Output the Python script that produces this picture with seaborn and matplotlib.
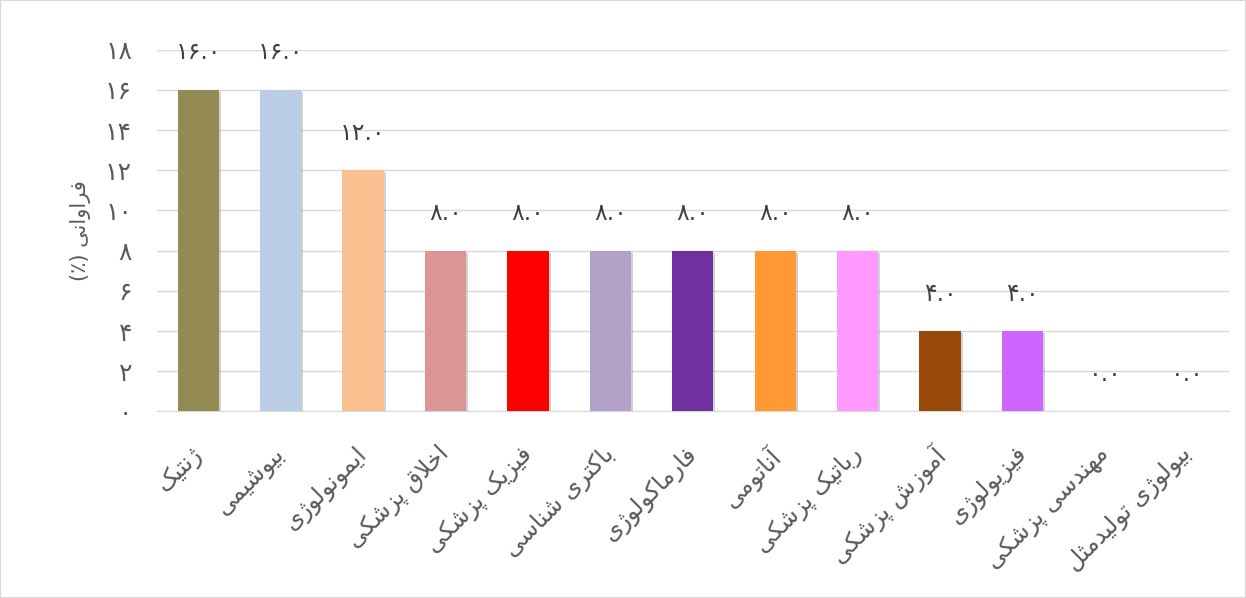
import matplotlib
matplotlib.use("Agg")
import matplotlib.pyplot as plt
import matplotlib.patheffects as pe
import matplotlib.transforms as mtransforms
from matplotlib.patches import Rectangle
import seaborn as sns
import pandas as pd

# Data (labels are logical Persian text)
subjects = [
    "ژنتیک", "بیوشیمی", "ایمونولوژی", "اخلاق پزشکی", "فیزیک پزشکی",
    "باکتری شناسی", "فارماکولوژی", "آناتومی", "رباتیک پزشکی",
    "آموزش پزشکی", "فیزیولوژی", "مهندسی پزشکی", "بیولوژی تولیدمثل",
]
percent = [16.0, 16.0, 12.0, 8.0, 8.0, 8.0, 8.0, 8.0, 8.0, 4.0, 4.0, 0.0, 0.0]
bar_colors = ["#948A54", "#B9CDE5", "#FAC090", "#D99694", "#FF0000", "#B3A2C7",
              "#7030A0", "#FF9933", "#FF99FF", "#984807", "#CC66FF",
              "#BFBFBF", "#BFBFBF"]
y_ticks = [0, 2, 4, 6, 8, 10, 12, 14, 16, 18]
y_title = "فراوانی"

# --- minimal Persian shaping (matplotlib has no complex text layout) ---
DUAL = {
    'ب': '\uFE8F\uFE90\uFE91\uFE92', 'پ': '\uFB56\uFB57\uFB58\uFB59',
    'ت': '\uFE95\uFE96\uFE97\uFE98', 'ث': '\uFE99\uFE9A\uFE9B\uFE9C',
    'خ': '\uFEA5\uFEA6\uFEA7\uFEA8', 'س': '\uFEB1\uFEB2\uFEB3\uFEB4',
    'ش': '\uFEB5\uFEB6\uFEB7\uFEB8', 'ف': '\uFED1\uFED2\uFED3\uFED4',
    'ق': '\uFED5\uFED6\uFED7\uFED8', 'ک': '\uFB8E\uFB8F\uFB90\uFB91',
    'ل': '\uFEDD\uFEDE\uFEDF\uFEE0', 'م': '\uFEE1\uFEE2\uFEE3\uFEE4',
    'ن': '\uFEE5\uFEE6\uFEE7\uFEE8', 'ه': '\uFEE9\uFEEA\uFEEB\uFEEC',
    'ی': '\uFBFC\uFBFD\uFBFE\uFBFF',
}
RIGHT = {
    'ا': '\uFE8D\uFE8E', 'آ': '\uFE81\uFE82', 'د': '\uFEA9\uFEAA',
    'ر': '\uFEAD\uFEAE', 'ز': '\uFEAF\uFEB0', 'ژ': '\uFB8A\uFB8B',
    'و': '\uFEED\uFEEE',
}
LAMALEF = {'ا': '\uFEFB\uFEFC', 'آ': '\uFEF5\uFEF6'}


def shape(s):
    out = []
    i = 0
    while i < len(s):
        c = s[i]
        prev = s[i - 1] if i > 0 else None
        nxt = s[i + 1] if i + 1 < len(s) else None
        link_prev = prev in DUAL and (c in DUAL or c in RIGHT)
        if c == 'ل' and nxt in LAMALEF:
            out.append(LAMALEF[nxt][1 if link_prev else 0])
            i += 2
            continue
        if c in DUAL:
            link_next = nxt in DUAL or nxt in RIGHT
            iso, fin, ini, med = DUAL[c]
            if link_prev and link_next:
                out.append(med)
            elif link_prev:
                out.append(fin)
            elif link_next:
                out.append(ini)
            else:
                out.append(iso)
        elif c in RIGHT:
            out.append(RIGHT[c][1] if link_prev else RIGHT[c][0])
        else:
            out.append(c)
        i += 1
    return ''.join(reversed(out))


def fa_digits(s):
    return s.translate(str.maketrans('0123456789', '۰۱۲۳۴۵۶۷۸۹'))


df = pd.DataFrame({'subject': subjects, 'percent': percent})

fig = plt.figure(figsize=(12.46, 5.98), dpi=100)
ax = fig.add_axes([0.126, 0.312, 0.86, 0.605])

sns.barplot(data=df, x='subject', y='percent', hue='subject', palette=bar_colors,
            legend=False, width=0.5, saturation=1, ax=ax, zorder=3)

for bar in ax.patches:
    bar.set_path_effects([pe.SimplePatchShadow(offset=(1.5, -1.5), shadow_rgbFace='#808080', alpha=0.35),
                          pe.Normal()])

# value labels
for i, v in enumerate(percent):
    ax.annotate(fa_digits(f"{v:.1f}"), (i, v), xytext=(0, 27), textcoords='offset points',
                ha='center', va='center', fontsize=17, color='#404040')

ax.set_ylim(0, 18)
ax.set_xlim(-0.5, len(subjects) - 0.5)
ax.set_yticks(y_ticks)
ax.set_yticklabels([fa_digits(str(t)) for t in y_ticks], fontsize=18, color='#595959')
ax.set_xticks(range(len(subjects)))
ax.set_xticklabels([shape(s) for s in subjects], rotation=45, ha='right',
                   rotation_mode='anchor', fontsize=17, color='#595959')
ax.tick_params(axis='both', length=0)
ax.tick_params(axis='x', pad=22)
ax.tick_params(axis='y', pad=18)

# nudge rotated labels slightly left so their ends sit over the ticks
shift = mtransforms.ScaledTranslation(-8 / 100, 0, fig.dpi_scale_trans)
for lbl in ax.get_xticklabels():
    lbl.set_transform(lbl.get_transform() + shift)

ax.grid(axis='y', color='#D9D9D9', linewidth=1, zorder=0)
ax.grid(axis='x', visible=False)
for side in ['top', 'right', 'left']:
    ax.spines[side].set_visible(False)
ax.spines['bottom'].set_color('#D9D9D9')
ax.set_xlabel('')
ax.set_ylabel('(٪) ' + shape(y_title), fontsize=15, color='#595959', labelpad=10)

fig.patches.append(Rectangle((0, 0), 1, 1, transform=fig.transFigure, fill=False,
                             edgecolor='#D9D9D9', linewidth=1.5))

fig.savefig('out.png', dpi=100)
